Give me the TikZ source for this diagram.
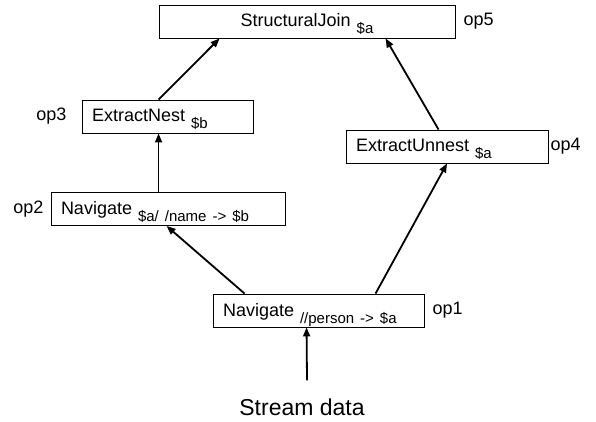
\documentclass[tikz,border=0pt]{standalone}
\usepackage{fontspec}
\setmainfont{Liberation Sans}
\usetikzlibrary{arrows.meta,positioning}
\newcommand{\opsub}[1]{\raisebox{-7pt}{\fontsize{15}{16}\selectfont #1}}

\begin{document}
\begin{tikzpicture}[x=1pt, y=-1pt,
  opbox/.style={draw, line width=0.9pt, minimum height=33pt, inner xsep=10pt, inner ysep=0pt,
    text height=16pt, text depth=5pt, align=left, font=\fontsize{18}{20}\selectfont},
  oplabel/.style={font=\fontsize{18}{20}\selectfont, inner sep=0pt},
  flow/.style={-{Triangle[length=9pt,width=7pt]}, line width=1.8pt}]
\useasboundingbox (0,0) rectangle (596,422);

% Operator boxes
\node[opbox, text width=276pt, align=center] (join) at (307,21.5) {StructuralJoin \opsub{\$a}};
\node[opbox, text width=151pt] (nest) at (167.5,116.5) {ExtractNest \opsub{\$b}};
\node[opbox, text width=182pt] (unnest) at (447,146.5) {ExtractUnnest \opsub{\$a}};
\node[opbox, text width=214pt] (navb) at (168,209) {Navigate \opsub{\$a/ /name -> \$b}};
\node[opbox, text width=191pt] (nava) at (318.5,310.5) {Navigate \opsub{//person -> \$a}};

% Operator names
\node[oplabel, right=8pt of join] (l5) {op5};
\node[oplabel, left=15pt of nest] (l3) {op3};
\node[oplabel, right=2pt of unnest] (l4) {op4};
\node[oplabel, left=7pt of navb] (l2) {op2};
\node[oplabel, right=8pt of nava] (l1) {op1};

% Input
\node[font=\fontsize{23}{26}\selectfont, inner sep=0pt] (data) at (302,407) {Stream data};

% Data flow
\draw[flow] ([xshift=5pt,yshift=18pt]data.north) -- ([xshift=94pt]nava.south west);
\draw[flow] ([xshift=32pt]nava.north west) -- ([xshift=116pt]navb.south west);
\draw[flow] ([xshift=163pt]nava.north west) -- (unnest.south);
\draw[flow] ([xshift=108pt]navb.north west) -- ([xshift=77pt]nest.south west);
\draw[flow] ([xshift=77pt]nest.north west) -- ([xshift=61pt]join.south west);
\draw[flow] ([xshift=93pt]unnest.north west) -- ([xshift=227pt]join.south west);
\end{tikzpicture}
\end{document}
